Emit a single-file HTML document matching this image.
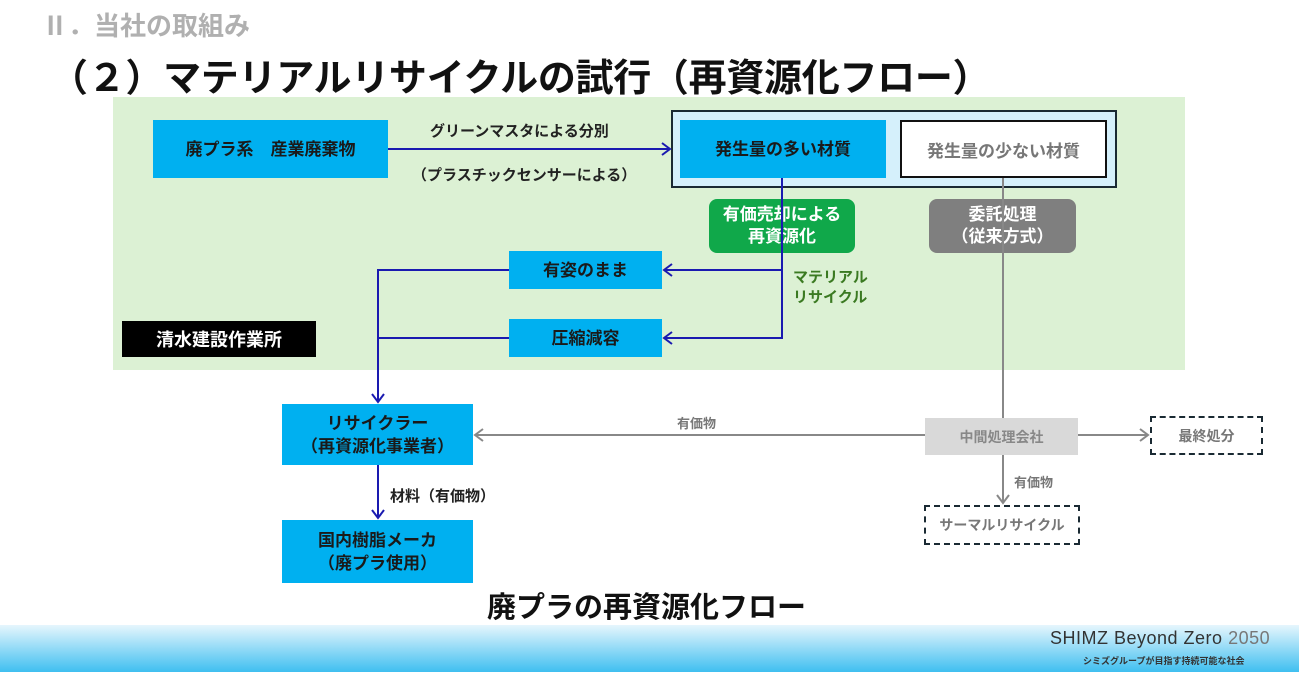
<!DOCTYPE html>
<html><head><meta charset="utf-8"><style>
body{margin:0;width:1299px;height:689px;position:relative;background:#fff;overflow:hidden;font-family:"Liberation Sans","Noto Sans CJK JP",sans-serif;}
.a{position:absolute;box-sizing:border-box;display:flex;align-items:center;justify-content:center;text-align:center;font-weight:bold;}
.t{position:absolute;white-space:nowrap;font-weight:bold;}
.b{background:#00b0f0;color:#1a1a1a;font-size:17px;line-height:23px;}
</style></head><body>
<div class="t" style="left:42px;top:6px;font-size:26px;color:#b0b0b0;">Ⅱ．当社の取組み</div>
<div class="t" style="left:50px;top:47px;font-size:38px;letter-spacing:-0.3px;color:#111;">（２）マテリアルリサイクルの試行（再資源化フロー）</div>
<div style="position:absolute;left:113px;top:97px;width:1072px;height:273px;background:#dcf1d4;"></div>
<div style="position:absolute;left:671px;top:110px;width:446px;height:78px;background:#d5f0fb;border:2px solid #1a2a33;box-sizing:border-box;"></div>
<div class="a b" style="left:153px;top:120px;width:235px;height:58px;">廃プラ系　産業廃棄物</div>
<div class="a b" style="left:680px;top:120px;width:206px;height:58px;">発生量の多い材質</div>
<div class="a" style="left:900px;top:120px;width:207px;height:58px;background:#fff;border:2px solid #111;color:#777;font-size:17px;">発生量の少ない材質</div>
<div class="t" style="left:430px;top:120px;font-size:15px;color:#222;">グリーンマスタによる分別</div>
<div class="t" style="left:412px;top:164px;font-size:15px;color:#222;">（プラスチックセンサーによる）</div>
<div class="a" style="left:709px;top:199px;width:146px;height:54px;background:#10a84a;border-radius:8px;color:#fff;font-size:17px;line-height:22px;">有価売却による<br>再資源化</div>
<div class="a" style="left:929px;top:199px;width:147px;height:54px;background:#7f7f7f;border-radius:8px;color:#fff;font-size:17px;line-height:22px;">委託処理<br>（従来方式）</div>
<div class="a b" style="left:509px;top:251px;width:153px;height:38px;">有姿のまま</div>
<div class="a b" style="left:509px;top:319px;width:153px;height:38px;">圧縮減容</div>
<div class="t" style="left:793px;top:268px;font-size:15px;line-height:20px;color:#3b7a22;">マテリアル<br>リサイクル</div>
<div class="a" style="left:122px;top:321px;width:194px;height:36px;background:#000;color:#fff;font-size:18px;">清水建設作業所</div>
<div class="a b" style="left:282px;top:404px;width:191px;height:61px;">リサイクラー<br>（再資源化事業者）</div>
<div class="a b" style="left:282px;top:520px;width:191px;height:63px;">国内樹脂メーカ<br>（廃プラ使用）</div>
<div class="a" style="left:925px;top:418px;width:153px;height:37px;background:#d9d9d9;color:#888;font-size:14px;">中間処理会社</div>
<div class="a" style="left:1150px;top:416px;width:113px;height:39px;border:2px dashed #1a2a33;color:#777;font-size:14px;">最終処分</div>
<div class="a" style="left:924px;top:505px;width:156px;height:40px;border:2px dashed #1a2a33;color:#777;font-size:14px;">サーマルリサイクル</div>
<div class="t" style="left:677px;top:413px;font-size:13px;color:#777;">有価物</div>
<div class="t" style="left:1014px;top:472px;font-size:13px;color:#777;">有価物</div>
<div class="t" style="left:390px;top:485px;font-size:15px;color:#222;">材料（有価物）</div>
<div class="t" style="left:487px;top:584px;font-size:29px;color:#111;">廃プラの再資源化フロー</div>
<svg style="position:absolute;left:0;top:0" width="1299" height="689">
<g stroke="#1a1ab0" stroke-width="2" fill="none">
<line x1="388" y1="149" x2="670" y2="149"/><polyline points="662,143 670,149 662,155"/>
<polyline points="782,178 782,338 664,338"/><line x1="782" y1="270" x2="664" y2="270"/>
<polyline points="672,264 664,270 672,276"/><polyline points="672,332 664,338 672,344"/>
<polyline points="509,270 378,270 378,402"/><line x1="509" y1="338" x2="378" y2="338"/>
<polyline points="372,394 378,402 384,394"/>
<line x1="378" y1="465" x2="378" y2="518"/><polyline points="372,510 378,518 384,510"/>
</g>
<g stroke="#888" stroke-width="2" fill="none">
<line x1="1003" y1="178" x2="1003" y2="418"/>
<line x1="1003" y1="455" x2="1003" y2="503"/><polyline points="997,495 1003,503 1009,495"/>
<line x1="925" y1="435" x2="475" y2="435"/><polyline points="483,429 475,435 483,441"/>
<line x1="1078" y1="435" x2="1148" y2="435"/><polyline points="1140,429 1148,435 1140,441"/>
</g>
</svg>
<div style="position:absolute;left:0;top:625px;width:1299px;height:47px;background:linear-gradient(#e6f6fd,#3fbff0);"></div>
<div class="t" style="left:1050px;top:628px;font-size:18px;font-weight:normal;color:#333;letter-spacing:0.5px;">SHIMZ Beyond Zero <span style="color:#777">2050</span></div>
<div class="t" style="left:1083px;top:654px;font-size:9px;color:#333;">シミズグループが目指す持続可能な社会</div>
</body></html>
